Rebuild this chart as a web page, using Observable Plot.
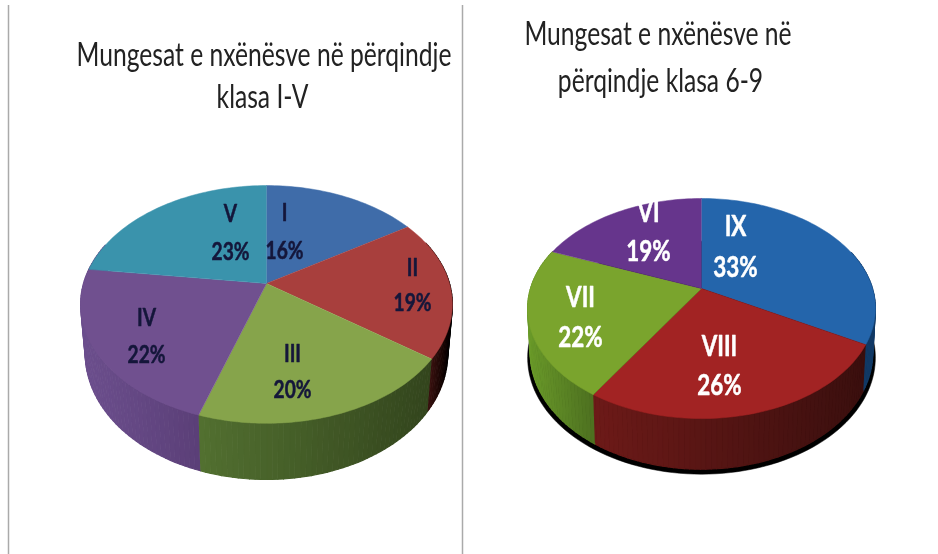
<!DOCTYPE html>
<html><head><meta charset="utf-8">
<style>html,body{margin:0;padding:0;background:#fff}svg{display:block}</style>
<script src="https://cdn.jsdelivr.net/npm/d3@7"></script>
<script src="https://cdn.jsdelivr.net/npm/@observablehq/plot@0.6"></script>
</head><body><div id="chart"></div>
<script>
// ---- data ----
const leftClasses = ["I","II","III","IV","V"];
const leftValues = [16,19,20,22,23];
const rightClasses = ["IX","VIII","VII","VI"];
const rightValues = [33,26,22,19];
const leftTitle = ["Mungesat e nxënësve në përqindje","klasa I-V"];
const rightTitle = ["Mungesat e nxënësve në","përqindje klasa 6-9"];

// ---- styles & layout ----
const leftTop = ["#3f6ca9","#a83f3d","#86a44b","#70508f","#3a93ac"];
const leftSide = [["#2a4a75","#2a4a75"],["#4a1816","#3a1210"],["#527030","#33451d"],["#6b4e8c","#5b3f78"],["#5f4580","#6b4e8c"]];
const rightTop = ["#2465ab","#a22323","#7aa42d","#66358c"];
const rightSide = [["#123a66","#123a66"],["#6d1a18","#3a0f0e"],["#5f8a26","#4d7020"],["#4a2766","#4a2766"]];
const geoLeft = {cx:266,cy:283,R:183,S:115.2,k:0.176,depth:48,shrink:0.975};
const geoRight = {cx:701,cy:288,R:171,S:106.4,k:0.182,depth:43,shrink:0.985};
const leftLabelPos = [[284,213,251],[412,268,303],[292,354,390],[146,318,355],[230,214,252]];
const rightLabelPos = [[735,227,268],[719,347,386],[580,298,338],[648,213,252]];

function project(g, t, a, lower){
  const u = t*Math.sin(a), v = -t*Math.cos(a), d = 1 - g.k*v;
  let x = g.R*u/d, y = g.S*v/d;
  if (lower){ x *= g.shrink; y = y*0.985 + g.depth/d; }
  return {x: g.cx + x, y: g.cy + y};
}
function pieParts(name, values, classes, tops, sides, g){
  const arcs = d3.pie().sort(null)(values);
  const faces = [], strips = [];
  const STEP = Math.PI/120;
  arcs.forEach((arc,i)=>{
    const id = name+"-"+classes[i];
    const as = d3.range(arc.startAngle, arc.endAngle, STEP).concat(arc.endAngle);
    faces.push({...project(g,0,0),id,color:tops[i]});
    as.forEach(a=>faces.push({...project(g,1,a),id,color:tops[i]}));
    const vis = [];
    for(let j=0;j<as.length-1;j++) if(-Math.cos(as[j])>-0.35||-Math.cos(as[j+1])>-0.35) vis.push([as[j],as[j+1]]);
    if(!vis.length) return;
    const x0 = project(g,1,vis[0][0]).x, x1 = project(g,1,vis[vis.length-1][1]).x;
    const lo = Math.min(x0,x1), hi = Math.max(x0,x1);
    const col = d3.interpolateRgb(sides[i][0],sides[i][1]);
    vis.forEach(([a,b],j)=>{
      const sid = id+"-"+j, mid=(project(g,1,a).x+project(g,1,b).x)/2;
      const color = col(hi>lo?(mid-lo)/(hi-lo):0);
      [project(g,1,a),project(g,1,b),project(g,1,b,true),project(g,1,a,true)]
        .forEach(p=>strips.push({...p,id:sid,color}));
    });
  });
  return {faces,strips};
}
const L = pieParts("L",leftValues,leftClasses,leftTop,leftSide,geoLeft);
const R = pieParts("R",rightValues,rightClasses,rightTop,rightSide,geoRight);
// black shadow under the right pie
const shadow = d3.range(0,2*Math.PI,Math.PI/90).map(a=>{
  const p=project(geoRight,1,a,true);
  return {x:geoRight.cx+(p.x-geoRight.cx)*1.015,y:p.y+5};
});
const labels = (classes,values,pos)=>classes.map((c,i)=>({c,p:values[i]+"%",x:pos[i][0],y1:pos[i][1],y2:pos[i][2]}));
const lab = labels(leftClasses,leftValues,leftLabelPos), rab = labels(rightClasses,rightValues,rightLabelPos);
const font = "Lato,'Liberation Sans',sans-serif";
const titles = [
 {t:leftTitle[0],x:263.5,y:65},{t:leftTitle[1],x:262,y:107},
 {t:rightTitle[0],x:657.5,y:44},{t:rightTitle[1],x:660,y:91}];
const labelOpts = (color,size,key,y)=>({x:"x",y,text:key,fill:color,stroke:color,strokeWidth:0.5,fontSize:size,fontWeight:"bold",fontFamily:font});
const plot = Plot.plot({
  width:938,height:554,margin:0,
  style:{filter:"blur(0.6px)"},
  x:{domain:[0,938],range:[0,938],axis:null},
  y:{domain:[0,554],range:[0,554],axis:null},
  color:{type:"identity"},
  marks:[
    Plot.ruleX([8,462],{y1:5,y2:554,stroke:"#aaa",strokeWidth:1.5}),
    Plot.line(shadow,{x:"x",y:"y",fill:"#000",stroke:"#000",strokeWidth:0.5}),
    Plot.line(L.strips,{x:"x",y:"y",z:"id",fill:"color",stroke:"color",strokeWidth:1.2}),
    Plot.line(R.strips,{x:"x",y:"y",z:"id",fill:"color",stroke:"color",strokeWidth:1.2}),
    Plot.line(L.faces,{x:"x",y:"y",z:"id",fill:"color",stroke:"color",strokeWidth:0.5}),
    Plot.line(R.faces,{x:"x",y:"y",z:"id",fill:"color",stroke:"color",strokeWidth:0.5}),
    Plot.text(titles,{x:"x",y:"y",text:"t",fill:"#222",fontSize:32,fontFamily:font,lineAnchor:"bottom"}),
    Plot.text(lab,labelOpts("#14163a",24,"c","y1")),
    Plot.text(lab,labelOpts("#14163a",24,"p","y2")),
    Plot.text(rab,labelOpts("#fff",28,"c","y1")),
    Plot.text(rab,labelOpts("#fff",28,"p","y2"))
  ]
});
document.getElementById("chart").append(plot);
// condense the glyphs (the original face is a narrow one)
plot.querySelectorAll("text").forEach(t=>{
  const len = t.getComputedTextLength();
  const factor = +t.parentNode.getAttribute("font-size") === 32 ? 0.77 : 0.8;
  t.setAttribute("textLength", (len*factor).toFixed(1));
  t.setAttribute("lengthAdjust","spacingAndGlyphs");
});
</script></body></html>
